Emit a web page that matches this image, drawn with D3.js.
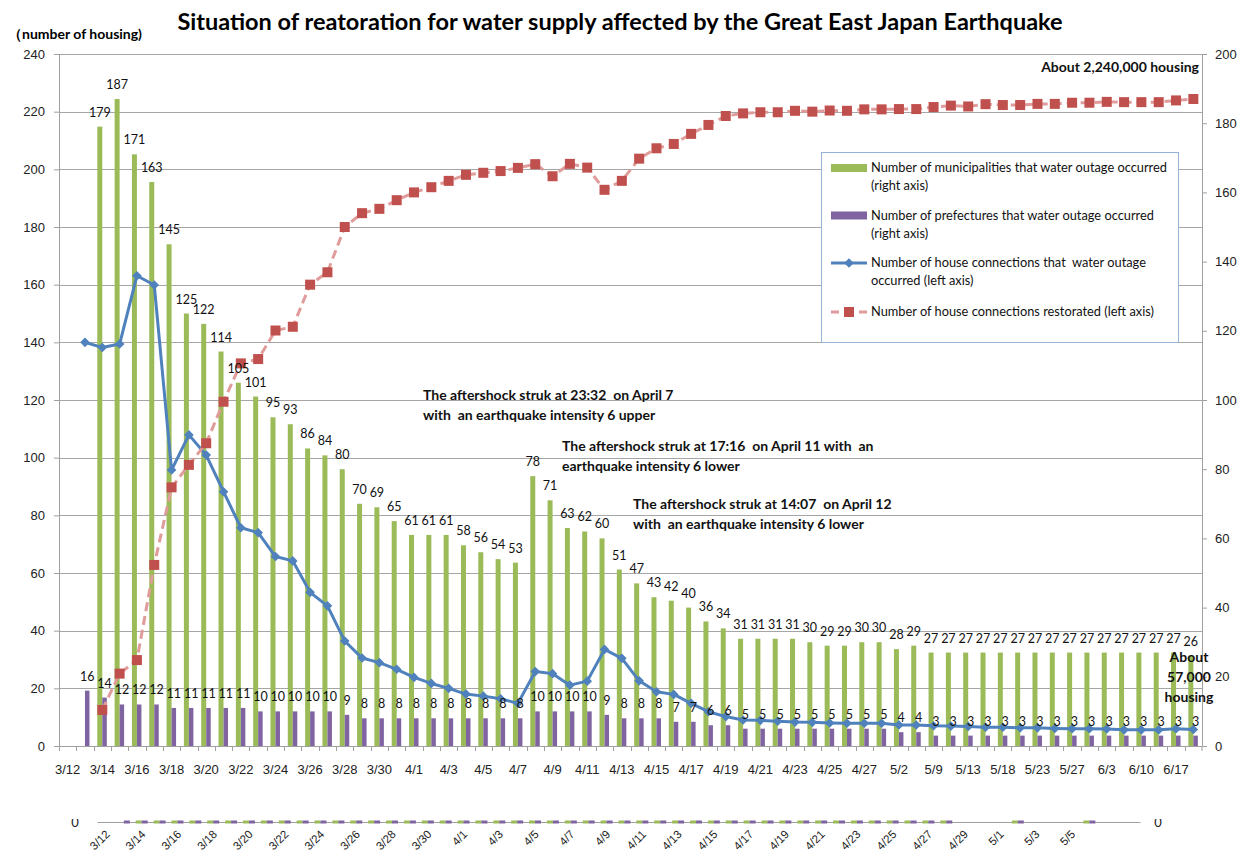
<!DOCTYPE html>
<html lang="en">
<head>
<meta charset="UTF-8">
<title>Water supply restoration</title>
<script src="https://d3js.org/d3.v7.min.js"></script>
<style>
    body { margin: 0; background: #fff; }
    svg { font-family: Lato, "Open Sans", sans-serif; }
    .axis path, .axis line { stroke: #a0a0a0; }
    .axis text { fill: #222; font-size: 13px; }
    .grid line { stroke: #a6a6a6; stroke-width: 1px; }
    .val { font-size: 12.5px; fill: #111; text-anchor: middle; }
    .note { font-size: 14px; font-weight: bold; fill: #111; }
    .leg { font-size: 12.8px; fill: #111; }
</style>
</head>
<body>
<script>

// categories on the main axis (labels shown on every other one)
var categories = ["3/12","3/13","3/14","3/15","3/16","3/17","3/18","3/19","3/20","3/21",
    "3/22","3/23","3/24","3/25","3/26","3/27","3/28","3/29","3/30","3/31",
    "4/1","4/2","4/3","4/4","4/5","4/6","4/7","4/8","4/9","4/10",
    "4/11","4/12","4/13","4/14","4/15","4/16","4/17","4/18","4/19","4/20",
    "4/21","4/22","4/23","4/24","4/25","4/26","4/27","4/28","5/2","5/6",
    "5/9","5/11","5/13","5/16","5/18","5/20","5/23","5/25","5/27","5/30",
    "6/3","6/7","6/10","6/14","6/17","6/24"];

// number of municipalities with water outage (right axis)
var municipalities = [null,null,179,187,171,163,145,125,122,114,
    105,101,95,93,86,84,80,70,69,65,
    61,61,61,58,56,54,53,78,71,63,
    62,60,51,47,43,42,40,36,34,31,
    31,31,31,30,29,29,30,30,28,29,
    27,27,27,27,27,27,27,27,27,27,
    27,27,27,27,27,26];

// number of prefectures with water outage (right axis)
var prefectures = [null,16,14,12,12,12,11,11,11,11,
    11,10,10,10,10,10,9,8,8,8,
    8,8,8,8,8,8,8,10,10,10,
    10,9,8,8,8,7,7,6,6,5,
    5,5,5,5,5,5,5,5,4,4,
    3,3,3,3,3,3,3,3,3,3,
    3,3,3,3,3,3];

// house connections with water outage, 10,000 housing (left axis)
var outage = [null,140.0,138.2,139.4,163.1,159.9,95.7,107.9,100.9,88.2,
    75.7,74.0,65.7,64.2,53.3,48.6,36.4,30.5,28.9,26.6,
    23.8,21.7,20.0,18.0,17.3,16.4,14.8,25.8,25.1,21.1,
    22.5,33.5,30.4,22.6,18.8,17.9,14.8,11.9,10.2,9.0,
    8.9,8.6,8.3,8.2,8.0,7.9,7.9,7.9,7.3,7.3,
    7.0,6.9,6.8,6.5,6.5,6.3,6.3,6.1,6.0,6.0,
    5.9,5.6,5.6,5.6,6.0,5.7];

// house connections restored, 10,000 housing (left axis)
var restored = [null,null,12.5,25.1,29.8,62.8,89.7,97.5,105.0,119.4,
    132.7,134.2,144.1,145.4,160.0,164.3,180.0,184.8,186.3,189.3,
    192.0,193.8,196.0,198.1,198.8,199.4,200.5,201.8,197.6,201.9,
    200.6,192.9,196.0,203.7,207.3,208.8,212.3,215.4,218.5,219.4,
    219.8,219.8,220.3,220.0,220.4,220.3,220.8,220.8,220.9,220.9,
    221.6,222.1,221.8,222.6,222.3,222.3,222.7,222.7,223.1,223.1,
    223.4,223.3,223.3,223.3,223.9,224.4];

var leftTicks = [0,20,40,60,80,100,120,140,160,180,200,220,240];
var rightTicks = [0,20,40,60,80,100,120,140,160,180,200];

// second (collapsed) date axis under the chart
var lowerTicks = ["3/12","3/14","3/16","3/18","3/20","3/22","3/24","3/26","3/28","3/30",
    "4/1","4/3","4/5","4/7","4/9","4/11","4/13","4/15","4/17","4/19",
    "4/21","4/23","4/25","4/27","4/29","5/1","5/3","5/5"];

var legendItems = [
    ["Number of municipalities that water outage occurred", "(right axis)"],
    ["Number of prefectures that water outage occurred", "(right axis)"],
    ["Number of house connections that  water outage", "occurred (left axis)"],
    ["Number of house connections restorated (left axis)"]
];

var notes = [
    {x: 423, y: 395, lines: ["The aftershock struk at 23:32  on April 7", "with  an earthquake intensity 6 upper"]},
    {x: 562, y: 446, lines: ["The aftershock struk at 17:16  on April 11 with  an", "earthquake intensity 6 lower"]},
    {x: 633, y: 504, lines: ["The aftershock struk at 14:07  on April 12", "with  an earthquake intensity 6 lower"]}
];

var GREEN = "#9bbb59", PURPLE = "#8064a2", BLUE = "#4f81bd", RED = "#c0504d", PINK = "#e09c9a";

var width = 1242, height = 860;
var plotL = 59, plotR = 1202, plotT = 54, plotB = 746;

var svg = d3.select("body").append("svg")
    .attr("width", width)
    .attr("height", height);

var x = d3.scaleBand().domain(categories).range([plotL, plotR]).padding(0);
var yL = d3.scaleLinear().domain([0, 240]).range([plotB, plotT]);
var yR = d3.scaleLinear().domain([0, 200]).range([plotB, plotT]);
var bw = x.bandwidth();
function cx(c) { return x(c) + bw / 2; }

// title
svg.append("text")
    .attr("x", 620).attr("y", 22).attr("dy", "0.35em")
    .attr("text-anchor", "middle")
    .style("font-size", "23.5px").style("font-weight", "bold")
    .text("Situation of reatoration for water supply affected by the Great East Japan Earthquake");

svg.append("text")
    .attr("x", 8).attr("y", 34).attr("dy", "0.35em")
    .style("font-size", "14px").style("font-weight", "bold")
    .text("（number of housing)");

// horizontal grid
svg.append("g").attr("class", "grid")
    .selectAll("line").data(leftTicks.filter(function(d) { return d > 0; }))
    .enter().append("line")
    .attr("x1", plotL).attr("x2", plotR)
    .attr("y1", function(d) { return Math.round(yL(d)) + 0.5; })
    .attr("y2", function(d) { return Math.round(yL(d)) + 0.5; });

// axes
svg.append("g").attr("class", "axis")
    .attr("transform", "translate(" + plotL + ",0)")
    .call(d3.axisLeft(yL).tickValues(leftTicks).tickSize(5).tickSizeOuter(0).tickPadding(9));

svg.append("g").attr("class", "axis")
    .attr("transform", "translate(" + plotR + ",0)")
    .call(d3.axisRight(yR).tickValues(rightTicks).tickSize(5).tickSizeOuter(0).tickPadding(8));

// category axis: line, boundary ticks, labels on even categories
var xAxis = svg.append("g").attr("class", "axis")
    .attr("transform", "translate(0," + plotB + ")")
    .call(d3.axisBottom(x)
        .tickValues(categories.filter(function(d, i) { return i % 2 === 0; }))
        .tickSize(0).tickPadding(19));
xAxis.selectAll(".tick text").style("font-size", "13px");

svg.append("g").attr("class", "axis")
    .selectAll("line").data(categories.concat(["end"]))
    .enter().append("line")
    .attr("x1", function(d) { return d === "end" ? plotR : Math.round(x(d)) + 0.5; })
    .attr("x2", function(d) { return d === "end" ? plotR : Math.round(x(d)) + 0.5; })
    .attr("y1", plotB).attr("y2", plotB + 5);

// bars
svg.append("g").selectAll("rect")
    .data(categories.filter(function(d, i) { return municipalities[i] != null; }))
    .enter().append("rect")
    .attr("x", function(d) { return cx(d) - 5; })
    .attr("width", 5)
    .attr("y", function(d) { return yR(municipalities[categories.indexOf(d)]); })
    .attr("height", function(d) { return plotB - yR(municipalities[categories.indexOf(d)]); })
    .attr("fill", GREEN);

svg.append("g").selectAll("rect")
    .data(categories.filter(function(d, i) { return prefectures[i] != null; }))
    .enter().append("rect")
    .attr("x", function(d) { return cx(d); })
    .attr("width", 4.5)
    .attr("y", function(d) { return yR(prefectures[categories.indexOf(d)]); })
    .attr("height", function(d) { return plotB - yR(prefectures[categories.indexOf(d)]); })
    .attr("fill", PURPLE);

// outage line with diamonds
var outPts = categories.map(function(c, i) { return {c: c, v: outage[i]}; })
    .filter(function(d) { return d.v != null; });
var valueLine = d3.line()
    .x(function(d) { return cx(d.c); })
    .y(function(d) { return yL(d.v); });
svg.append("path").datum(outPts)
    .attr("d", valueLine)
    .attr("fill", "none").attr("stroke", BLUE).attr("stroke-width", 3)
    .attr("stroke-linejoin", "round");
svg.append("g").selectAll("rect").data(outPts)
    .enter().append("rect")
    .attr("x", -3.4).attr("y", -3.4).attr("width", 6.8).attr("height", 6.8)
    .attr("transform", function(d) { return "translate(" + cx(d.c) + "," + yL(d.v) + ") rotate(45)"; })
    .attr("fill", BLUE);

// restored line with squares
var resPts = categories.map(function(c, i) { return {c: c, v: restored[i]}; })
    .filter(function(d) { return d.v != null; });
svg.append("path").datum(resPts)
    .attr("d", valueLine)
    .attr("fill", "none").attr("stroke", PINK).attr("stroke-width", 3)
    .attr("stroke-dasharray", "9,5");
svg.append("g").selectAll("rect").data(resPts)
    .enter().append("rect")
    .attr("x", function(d) { return cx(d.c) - 5; })
    .attr("y", function(d) { return yL(d.v) - 5; })
    .attr("width", 10).attr("height", 10)
    .attr("fill", RED);

// data labels
svg.append("g").selectAll("text")
    .data(categories.filter(function(d, i) { return municipalities[i] != null; }))
    .enter().append("text").attr("class", "val")
    .attr("x", function(d) { return cx(d) - 2.5; })
    .attr("y", function(d) { return yR(municipalities[categories.indexOf(d)]) - 10; })
    .text(function(d) { return municipalities[categories.indexOf(d)]; });

svg.append("g").selectAll("text")
    .data(categories.filter(function(d, i) { return prefectures[i] != null; }))
    .enter().append("text").attr("class", "val")
    .attr("x", function(d) { return cx(d) + 2.3; })
    .attr("y", function(d) { return yR(prefectures[categories.indexOf(d)]) - 10; })
    .text(function(d) { return prefectures[categories.indexOf(d)]; });

// annotations
notes.forEach(function(n) {
    n.lines.forEach(function(t, k) {
        svg.append("text").attr("class", "note")
            .attr("x", n.x).attr("y", n.y + k * 20).attr("dy", "0.35em")
            .style("white-space", "pre")
            .text(t);
    });
});

svg.append("text").attr("class", "note")
    .attr("x", 1199).attr("y", 67).attr("dy", "0.35em")
    .attr("text-anchor", "end")
    .text("About 2,240,000  housing");

["About", "57,000", "housing"].forEach(function(t, k) {
    svg.append("text").attr("class", "note")
        .attr("x", 1189).attr("y", 657 + k * 20).attr("dy", "0.35em")
        .attr("text-anchor", "middle")
        .text(t);
});

// legend
var lg = svg.append("g").attr("transform", "translate(821,152)");
lg.append("rect").attr("x", 0.5).attr("y", 0.5).attr("width", 357).attr("height", 190)
    .attr("fill", "#fff").attr("stroke", "#95b3d7");
var legY = [16, 63.5, 111, 160];
legendItems.forEach(function(item, i) {
    var yy = legY[i];
    if (i === 0 || i === 1) {
        lg.append("rect").attr("x", 10).attr("y", yy - 4).attr("width", 36).attr("height", 8)
            .attr("fill", i === 0 ? GREEN : PURPLE);
    } else if (i === 2) {
        lg.append("line").attr("x1", 10).attr("x2", 46).attr("y1", yy).attr("y2", yy)
            .attr("stroke", BLUE).attr("stroke-width", 3);
        lg.append("rect").attr("x", -3.4).attr("y", -3.4).attr("width", 6.8).attr("height", 6.8)
            .attr("transform", "translate(28," + yy + ") rotate(45)").attr("fill", BLUE);
    } else {
        lg.append("line").attr("x1", 10).attr("x2", 46).attr("y1", yy).attr("y2", yy)
            .attr("stroke", PINK).attr("stroke-width", 3).attr("stroke-dasharray", "8,6");
        lg.append("rect").attr("x", 23).attr("y", yy - 5).attr("width", 10).attr("height", 10)
            .attr("fill", RED);
    }
    item.forEach(function(t, k) {
        lg.append("text").attr("class", "leg")
            .attr("x", 50).attr("y", yy + k * 18).attr("dy", "0.35em")
            .style("white-space", "pre")
            .text(t);
    });
});

// collapsed date chart below
var parseMD = function(s) {
    var p = s.split("/");
    return new Date(2011, +p[0] - 1, +p[1]);
};
var x2 = d3.scaleTime()
    .domain([new Date(2011, 2, 11, 12), new Date(2011, 4, 8, 20)])
    .range([97, 1140]);
var lowY = 822;
var low = svg.append("g").attr("class", "axis")
    .attr("transform", "translate(0," + lowY + ")")
    .call(d3.axisBottom(x2)
        .tickValues(lowerTicks.map(parseMD))
        .tickFormat(d3.timeFormat("%-m/%-d"))
        .tickSize(0).tickSizeOuter(0).tickPadding(0));
low.selectAll(".tick text")
    .style("font-size", "11.5px")
    .attr("text-anchor", "end")
    .attr("dy", null)
    .attr("transform", "translate(4,13) rotate(-45)");

var lowCats = categories.filter(function(c) {
    var d = parseMD(c);
    return d >= x2.domain()[0] && d <= x2.domain()[1];
});
svg.append("g").selectAll("rect")
    .data(lowCats.filter(function(c) { return municipalities[categories.indexOf(c)] != null; }))
    .enter().append("rect")
    .attr("x", function(c) { return x2(parseMD(c)) - 6; })
    .attr("y", lowY - 1.5).attr("width", 6).attr("height", 3)
    .attr("fill", GREEN);
svg.append("g").selectAll("rect")
    .data(lowCats.filter(function(c) { return prefectures[categories.indexOf(c)] != null; }))
    .enter().append("rect")
    .attr("x", function(c) { return x2(parseMD(c)); })
    .attr("y", lowY - 1.5).attr("width", 6).attr("height", 3)
    .attr("fill", PURPLE);

// clipped zero labels at both ends of the collapsed axis
svg.append("clipPath").attr("id", "zclip")
    .append("rect").attr("x", 0).attr("y", lowY - 3).attr("width", width).attr("height", 20);
[75, 1158].forEach(function(px) {
    svg.append("text")
        .attr("clip-path", "url(#zclip)")
        .attr("x", px).attr("y", lowY).attr("dy", "0.35em")
        .attr("text-anchor", "middle")
        .style("font-size", "13px").style("fill", "#222")
        .text("0");
});

</script>
</body>
</html>
